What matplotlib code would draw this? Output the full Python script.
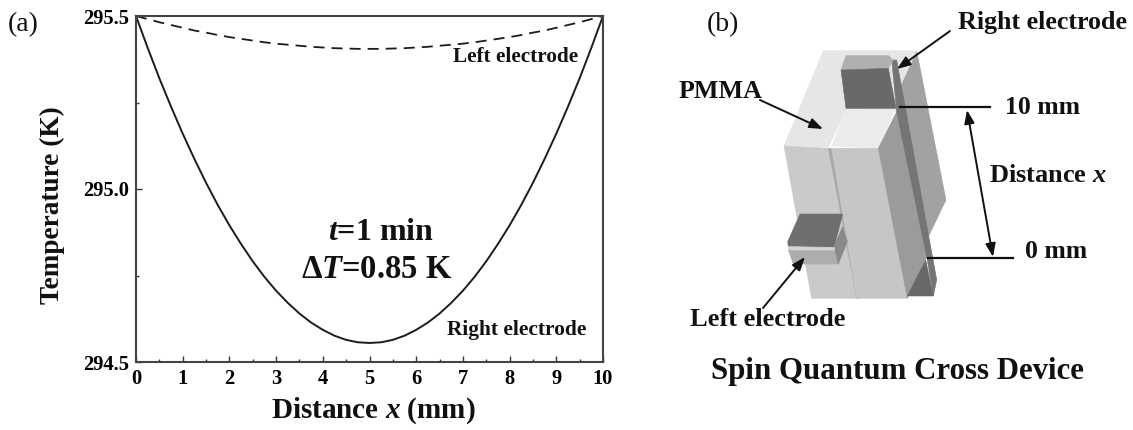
import matplotlib.pyplot as plt
from matplotlib.patches import Polygon

plt.rcParams["font.family"] = ["Liberation Serif"]
plt.rcParams["font.weight"] = "bold"
plt.rcParams["mathtext.fontset"] = "custom"
plt.rcParams["mathtext.rm"] = "Liberation Serif:bold"
plt.rcParams["mathtext.it"] = "Liberation Serif:italic:bold"
plt.rcParams["mathtext.bf"] = "Liberation Serif:bold"

W, H = 1133, 430
INK = "#1c1c1c"

distance = [
    0, 0.25, 0.5, 0.75, 1, 1.25, 1.5, 1.75, 2, 2.25, 2.5, 2.75, 3, 3.25, 3.5, 3.75, 4, 4.25, 4.5, 4.75, 5,
    5.25, 5.5, 5.75, 6, 6.25, 6.5, 6.75, 7, 7.25, 7.5, 7.75, 8, 8.25, 8.5, 8.75, 9, 9.25, 9.5, 9.75, 10,
]
right_electrode = [
    295.5, 295.408, 295.32, 295.238, 295.16, 295.087, 295.018, 294.954, 294.895, 294.841, 294.791,
    294.746, 294.706, 294.671, 294.64, 294.614, 294.593, 294.576, 294.564, 294.557, 294.555,
    294.557, 294.564, 294.576, 294.593, 294.614, 294.64, 294.671, 294.706, 294.746, 294.791,
    294.841, 294.895, 294.954, 295.018, 295.087, 295.16, 295.238, 295.32, 295.408, 295.5,
]
left_electrode = [
    295.5, 295.491, 295.482, 295.474, 295.466, 295.458, 295.452, 295.445, 295.439, 295.434, 295.429,
    295.424, 295.42, 295.417, 295.414, 295.411, 295.409, 295.407, 295.406, 295.405, 295.405,
    295.405, 295.406, 295.407, 295.409, 295.411, 295.414, 295.417, 295.42, 295.424, 295.429,
    295.434, 295.439, 295.445, 295.452, 295.458, 295.466, 295.474, 295.482, 295.491, 295.5,
]
x_ticks = list(range(11))
y_ticks = [294.5, 295.0, 295.5]

# device faces, grey level and outline as traced in the 3x crop at (760, 40)
device_faces = [
    ("#a2a2a2", [(420, 140), (470, 32), (558, 480), (505, 590), (530, 720), (500, 650), (410, 215)]),
    ("#e6e6e6", [(72, 318), (190, 32), (470, 32), (420, 140), (410, 215), (260, 205), (205, 322)]),
    ("#cacaca", [(72, 318), (205, 325), (290, 775), (155, 775)]),
    ("#a9a9a9", [(205, 325), (215, 325), (298, 775), (290, 775)]),
    ("#ebebeb", [(215, 318), (260, 208), (405, 208), (355, 325)]),
    ("#c6c6c6", [(215, 325), (355, 325), (442, 775), (290, 775)]),
    ("#9b9b9b", [(355, 325), (410, 215), (500, 650), (442, 775)]),
    ("#757575", [(395, 60), (410, 60), (530, 720), (520, 768), (500, 650), (410, 215)]),
    ("#686868", [(442, 768), (497, 660), (520, 768)]),
    ("#b0b0b0", [(243, 90), (258, 47), (385, 47), (400, 60), (385, 85)]),
    ("#696969", [(243, 90), (385, 85), (408, 205), (258, 205)]),
    ("#6f6f6f", [(83, 605), (120, 522), (248, 522), (222, 622), (85, 620)]),
    ("#adadad", [(85, 630), (222, 630), (235, 672), (100, 672)]),
    ("#8a8a8a", [(222, 620), (248, 560), (262, 605), (235, 672)]),
    ("#d2d2d2", [(85, 620), (222, 622), (224, 630), (85, 630)]),
]


def main() -> None:
    fig = plt.figure(figsize=(W / 100, H / 100), dpi=100)

    # panel (a)
    ax = fig.add_axes([136 / W, 1 - 362 / H, (603 - 136) / W, (362 - 16) / H])
    ax.plot(distance, right_electrode, color=INK, lw=1.4, clip_on=False)
    ax.plot(distance, left_electrode, color=INK, lw=1.3, dashes=(6.1, 3.9))
    ax.set_xlim(0, 10)
    ax.set_ylim(294.5, 295.5)
    ax.set_xticks(x_ticks)
    ax.set_xticks([t + 0.5 for t in x_ticks[:-1]], minor=True)
    ax.set_yticks(y_ticks, [f"{t:.1f}" for t in y_ticks])
    ax.set_yticks([294.75, 295.25], minor=True)
    ax.tick_params(which="major", direction="in", length=4.5, width=1, color="#333333", labelsize=14.8, pad=5)
    ax.tick_params(which="minor", direction="in", length=2.5, width=1, color="#333333")
    for spine in ax.spines.values():
        spine.set_linewidth(1.5)
        spine.set_color("#444444")

    # everything else is placed in image pixels
    over = fig.add_axes([0, 0, 1, 1], zorder=3)
    over.set_xlim(0, W)
    over.set_ylim(H, 0)
    over.axis("off")

    def label(x, y, text, size, ha="center", **kwargs):
        over.text(x, y, text, fontsize=size, ha=ha, va="center", color="#111111", **kwargs)

    label(8, 25, "(a)", 20, ha="left", fontweight="normal")
    label(707, 25, "(b)", 20, ha="left", fontweight="normal")
    label(52, 205, "Temperature (K)", 19.6, rotation=90)
    label(373, 411, r"Distance $\mathit{x}$ (mm)", 21)
    label(381, 232, r"$\mathit{t}$=1 min", 23)
    label(377, 270, r"$\Delta\mathit{T}$=0.85 K", 23.5)
    label(516, 57, "Left electrode", 15.3)
    label(517, 330, "Right electrode", 15.4)

    for color, outline in device_faces:
        points = [(760 + x / 3, 40 + y / 3) for x, y in outline]
        over.add_patch(Polygon(points, closed=True, facecolor=color, edgecolor=color, lw=0.4))

    label(958, 22, "Right electrode", 18.7, ha="left")
    label(679, 91, "PMMA", 18.7, ha="left")
    label(1005, 107, "10 mm", 18.5, ha="left")
    label(989, 175, r"Distance $\mathit{x}$", 19, ha="left")
    label(1025, 252, "0 mm", 18.5, ha="left")
    label(690, 320, "Left electrode", 19, ha="left")
    label(897, 371, "Spin Quantum Cross Device", 22.2)

    for start, end, style in [
        ((950, 31), (897, 69), "-|>"),
        ((760, 100), (823, 129), "-|>"),
        ((763, 308), (805, 257), "-|>"),
        ((967, 110), (993, 257), "<|-|>"),
    ]:
        over.annotate(
            "",
            xy=end,
            xytext=start,
            arrowprops=dict(arrowstyle=f"{style},head_length=0.8,head_width=0.3", color="#111111", lw=1.4,
                            shrinkA=0, shrinkB=0),
        )
    over.plot([900, 990], [107, 107], color="#111111", lw=1.6)
    over.plot([928, 1013], [258, 258], color="#111111", lw=1.6)

    fig.savefig("out.png", dpi=100)
    plt.close(fig)


if __name__ == "__main__":
    main()
